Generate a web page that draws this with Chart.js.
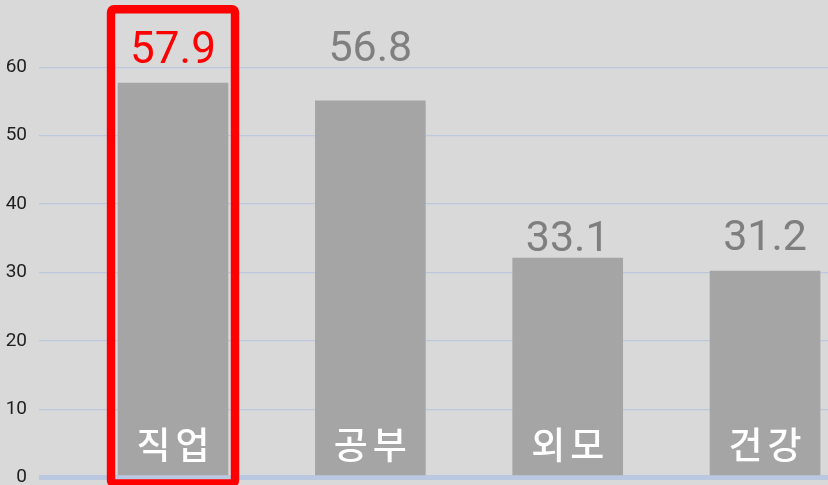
<!DOCTYPE html>
<html>
<head>
<meta charset="utf-8">
<script src="https://cdn.jsdelivr.net/npm/chart.js@4/dist/chart.umd.min.js"></script>
<style>
  html, body { margin: 0; padding: 0; background: #d9d9d9; overflow: hidden; }
  #wrap { width: 828px; height: 485px; position: relative; }
</style>
</head>
<body>
<div id="wrap"><canvas id="c"></canvas></div>
<script>
// ---- data ----
const categories = ['직업', '공부', '외모', '건강'];
const barValues = [57.7, 55.1, 32.1, 30.2];          // bar heights as drawn
const valueLabels = ['57.9', '56.8', '33.1', '31.2']; // numbers printed above bars
const yTickValues = [0, 10, 20, 30, 40, 50, 60];
const highlightIndex = 0;

// label lift above each bar top (px) - styling, mirrors manual placement in reference
const labelLift = [20, 40, 7, 21];

const overlayPlugin = {
  id: 'overlay',
  afterDatasetsDraw(chart) {
    const ctx = chart.ctx;
    const meta = chart.getDatasetMeta(0);
    meta.data.forEach((bar, i) => {
      const x = bar.x;
      // value label
      ctx.save();
      const hi = i === highlightIndex;
      ctx.font = (hi ? '44px' : '43px') + ' Roboto, "Liberation Sans", sans-serif';
      ctx.fillStyle = hi ? '#ff0000' : '#7f7f7f';
      ctx.textAlign = 'center';
      ctx.textBaseline = 'alphabetic';
      ctx.fillText(valueLabels[i], x, bar.y - labelLift[i]);
      ctx.restore();

      // category label inside bar (spaced characters)
      ctx.save();
      ctx.font = '500 37px "Noto Sans CJK KR", sans-serif';
      ctx.fillStyle = '#ffffff';
      ctx.textBaseline = 'middle';
      ctx.textAlign = 'left';
      const chars = Array.from(categories[i]);
      const gap = 5;
      const widths = chars.map(c => ctx.measureText(c).width);
      const total = widths.reduce((a, b) => a + b, 0) + gap * (chars.length - 1);
      let cx = x - total / 2;
      const cy = chart.scales.y.getPixelForValue(0) - 33;
      chars.forEach((c, k) => {
        ctx.fillText(c, cx, cy);
        cx += widths[k] + gap;
      });
      ctx.restore();
    });
  },
  afterDraw(chart) {
    const ctx = chart.ctx;
    const bar = chart.getDatasetMeta(0).data[highlightIndex];
    const half = bar.width / 2 + 7;
    const left = bar.x - half, right = bar.x + half;
    const top = 9.2, bottom = 483.5;
    ctx.save();
    ctx.strokeStyle = '#ff0000';
    ctx.lineWidth = 8.4;
    ctx.lineJoin = 'round';
    ctx.beginPath();
    ctx.roundRect(left, top, right - left, bottom - top, 3);
    ctx.stroke();
    ctx.restore();
  }
};

function draw() {
  new Chart(document.getElementById('c'), {
    type: 'bar',
    data: {
      datasets: [{
        data: barValues.map((v, i) => ({ x: i, y: v })),
        backgroundColor: '#a5a5a5',
        borderWidth: 0,
        barThickness: 110
      }]
    },
    options: {
      responsive: true,
      maintainAspectRatio: false,
      animation: false,
      events: [],
      layout: { padding: { left: 0, right: 0, top: 0, bottom: 7.5 } },
      plugins: { legend: { display: false }, tooltip: { enabled: false } },
      scales: {
        x: {
          type: 'linear',
          display: false,
          offset: false,
          min: -0.679,
          max: 3.319,
          ticks: { stepSize: 1 }
        },
        y: {
          min: 0,
          max: 69.85,
          afterFit(scale) {
            scale.width = 39;
            scale.paddingTop = 0;
            scale.paddingBottom = 0;
          },
          afterBuildTicks(scale) { scale.ticks = yTickValues.map(v => ({ value: v })); },
          border: { display: false },
          grid: {
            color: ctx => (ctx.tick && ctx.tick.value === 0 ? '#bac8e2' : '#bdc7de'),
            lineWidth: ctx => (ctx.tick && ctx.tick.value === 0 ? 5 : 1.2),
            drawTicks: false
          },
          ticks: {
            padding: 12,
            color: '#1f1f1f',
            font: { family: 'Roboto, "Liberation Sans", sans-serif', size: 19 },
            includeBounds: false
          }
        }
      }
    },
    plugins: [overlayPlugin]
  });
}

if (document.fonts && document.fonts.load) {
  Promise.all([
    document.fonts.load('500 37px "Noto Sans CJK KR"', '직업공부외모건강'),
    document.fonts.load('43px Roboto', '0123456789.')
  ]).then(draw, draw);
} else {
  draw();
}
</script>
</body>
</html>
